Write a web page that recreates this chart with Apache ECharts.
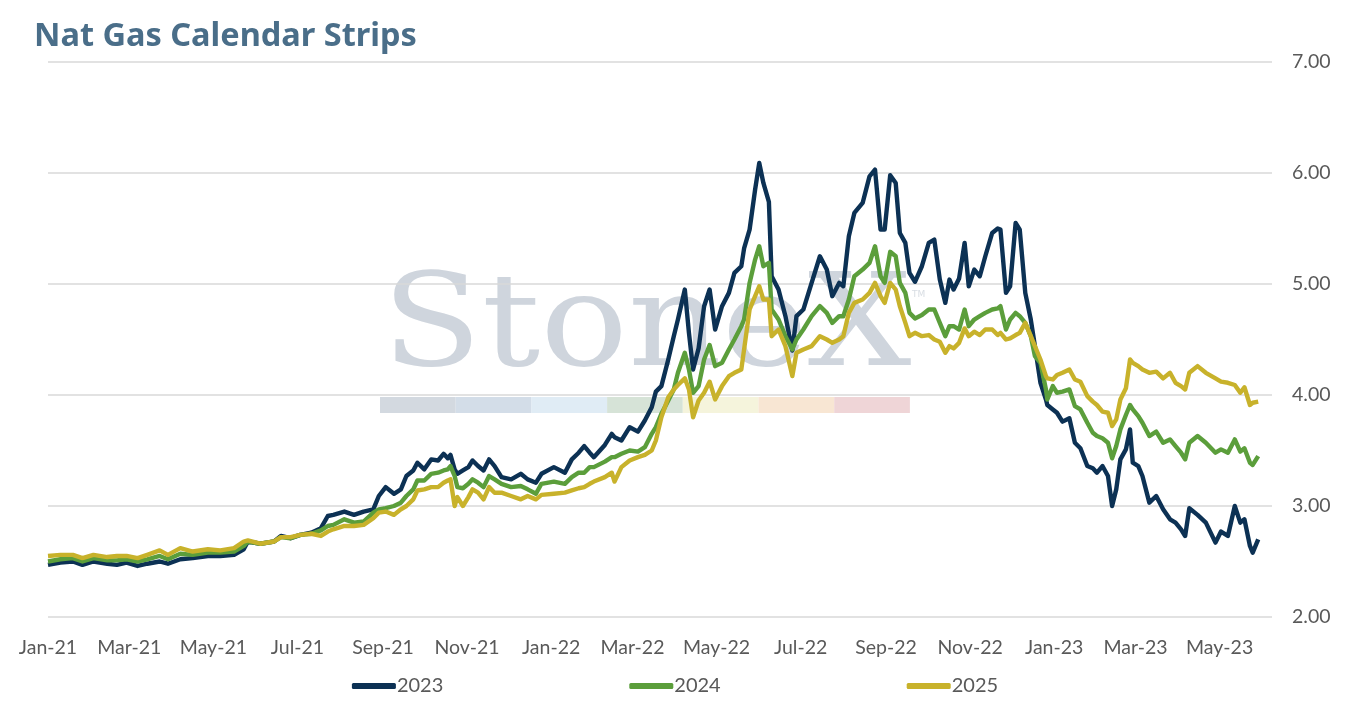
<!DOCTYPE html>
<html>
<head>
<meta charset="utf-8">
<script src="https://cdn.jsdelivr.net/npm/echarts@6/dist/echarts.min.js"></script>
<style>
html,body{margin:0;padding:0;background:#fff;}
#chart{width:1350px;height:707px;}
</style>
</head>
<body>
<div id="chart"></div>
<script>
const dates = [
'2021-01-01','2021-01-10','2021-01-19','2021-01-26','2021-02-03','2021-02-13','2021-02-20','2021-02-27','2021-03-07','2021-03-14',
'2021-03-23','2021-03-29','2021-04-07','2021-04-16','2021-04-27','2021-05-06','2021-05-16','2021-05-23','2021-05-26','2021-06-04',
'2021-06-14','2021-06-19','2021-06-26','2021-07-03','2021-07-11','2021-07-18','2021-07-23','2021-07-27','2021-08-04','2021-08-11',
'2021-08-18','2021-08-25','2021-08-29','2021-09-03','2021-09-09','2021-09-14','2021-09-18','2021-09-23','2021-09-26','2021-10-01',
'2021-10-06','2021-10-11','2021-10-15','2021-10-18','2021-10-20','2021-10-23','2021-10-25','2021-10-29','2021-11-02','2021-11-05',
'2021-11-09','2021-11-13','2021-11-17','2021-11-21','2021-11-26','2021-12-03','2021-12-10','2021-12-15','2021-12-21','2021-12-25',
'2022-01-03','2022-01-11','2022-01-16','2022-01-21','2022-01-25','2022-01-29','2022-02-01','2022-02-09','2022-02-14','2022-02-16',
'2022-02-21','2022-02-27','2022-03-05','2022-03-10','2022-03-15','2022-03-18','2022-03-22','2022-03-27','2022-03-31','2022-04-03',
'2022-04-08','2022-04-11','2022-04-14','2022-04-18','2022-04-22','2022-04-26','2022-04-30','2022-05-05','2022-05-10','2022-05-14',
'2022-05-19','2022-05-21','2022-05-25','2022-05-29','2022-06-01','2022-06-04','2022-06-08','2022-06-10','2022-06-15','2022-06-20',
'2022-06-25','2022-06-28','2022-07-03','2022-07-09','2022-07-15','2022-07-20','2022-07-24','2022-07-29','2022-08-01','2022-08-05',
'2022-08-09','2022-08-15','2022-08-20','2022-08-24','2022-08-28','2022-08-31','2022-09-04','2022-09-08','2022-09-11','2022-09-15',
'2022-09-18','2022-09-22','2022-09-27','2022-10-02','2022-10-06','2022-10-10','2022-10-14','2022-10-17','2022-10-20','2022-10-24',
'2022-10-28','2022-10-31','2022-11-04','2022-11-08','2022-11-12','2022-11-17','2022-11-21','2022-11-23','2022-11-27','2022-11-30',
'2022-12-04','2022-12-07','2022-12-11','2022-12-15','2022-12-18','2022-12-22','2022-12-26','2022-12-27','2022-12-31','2023-01-03',
'2023-01-07','2023-01-12','2023-01-16','2023-01-20','2023-01-25','2023-01-29','2023-02-01','2023-02-05','2023-02-09','2023-02-12',
'2023-02-15','2023-02-18','2023-02-22','2023-02-25','2023-02-27','2023-03-03','2023-03-06','2023-03-11','2023-03-16','2023-03-21',
'2023-03-26','2023-03-30','2023-04-03','2023-04-06','2023-04-09','2023-04-15','2023-04-21','2023-04-28','2023-05-02','2023-05-07',
'2023-05-12','2023-05-16','2023-05-19','2023-05-23','2023-05-25','2023-05-29'
];
const s2023 = [
2.47,2.49,2.50,2.47,2.50,2.48,2.47,2.49,2.46,2.48,
2.50,2.48,2.52,2.53,2.55,2.55,2.56,2.61,2.68,2.66,
2.68,2.73,2.71,2.74,2.76,2.80,2.91,2.92,2.95,2.92,
2.95,2.97,3.09,3.17,3.11,3.15,3.27,3.32,3.39,3.33,
3.42,3.41,3.47,3.43,3.46,3.33,3.29,3.32,3.35,3.41,
3.36,3.32,3.42,3.36,3.26,3.24,3.29,3.24,3.21,3.29,
3.35,3.30,3.42,3.48,3.54,3.48,3.44,3.55,3.65,3.62,
3.59,3.71,3.67,3.77,3.89,4.03,4.08,4.32,4.53,4.68,
4.95,4.56,4.23,4.42,4.80,4.95,4.59,4.80,4.92,5.10,
5.16,5.32,5.49,5.85,6.09,5.91,5.74,5.07,4.95,4.71,
4.40,4.71,4.77,5.01,5.25,5.13,4.89,5.01,4.98,5.43,
5.64,5.73,5.97,6.03,5.49,5.49,5.98,5.91,5.46,5.37,
5.10,5.02,5.16,5.37,5.40,5.04,4.83,5.04,4.95,5.05,
5.37,4.98,5.13,5.07,5.25,5.46,5.50,5.49,4.92,4.98,
5.55,5.49,4.92,4.68,4.44,4.11,3.96,3.91,3.87,3.84,
3.76,3.79,3.57,3.52,3.36,3.34,3.30,3.36,3.27,3.00,
3.15,3.42,3.51,3.69,3.39,3.36,3.27,3.03,3.09,2.97,
2.88,2.85,2.79,2.73,2.98,2.92,2.85,2.67,2.77,2.73,
3.00,2.85,2.88,2.64,2.58,2.70
];
const s2024 = [
2.50,2.52,2.53,2.50,2.53,2.51,2.51,2.52,2.50,2.52,
2.55,2.52,2.57,2.56,2.58,2.58,2.59,2.64,2.68,2.66,
2.68,2.72,2.71,2.74,2.75,2.78,2.82,2.83,2.88,2.85,
2.86,2.94,2.97,2.98,3.00,3.03,3.09,3.15,3.23,3.23,
3.29,3.30,3.32,3.33,3.36,3.27,3.17,3.16,3.20,3.24,
3.21,3.17,3.27,3.24,3.20,3.17,3.18,3.15,3.11,3.20,
3.22,3.20,3.26,3.30,3.30,3.35,3.35,3.40,3.44,3.44,
3.47,3.50,3.49,3.53,3.65,3.71,3.83,3.95,4.05,4.20,
4.38,4.23,4.02,4.08,4.32,4.45,4.26,4.29,4.41,4.50,
4.62,4.68,5.01,5.22,5.34,5.16,5.19,4.77,4.68,4.53,
4.41,4.50,4.59,4.71,4.80,4.74,4.65,4.71,4.71,4.86,
5.07,5.13,5.19,5.34,5.07,5.01,5.29,5.25,5.01,4.92,
4.74,4.69,4.72,4.77,4.77,4.65,4.53,4.62,4.62,4.59,
4.77,4.62,4.68,4.71,4.74,4.77,4.78,4.80,4.59,4.68,
4.74,4.71,4.65,4.53,4.35,4.29,4.05,3.96,4.08,4.02,
4.03,4.05,3.90,3.87,3.75,3.66,3.63,3.61,3.57,3.43,
3.54,3.69,3.82,3.91,3.87,3.81,3.75,3.63,3.67,3.57,
3.60,3.54,3.48,3.42,3.57,3.63,3.57,3.48,3.51,3.48,
3.60,3.49,3.52,3.39,3.37,3.45
];
const s2025 = [
2.55,2.56,2.56,2.53,2.56,2.54,2.55,2.55,2.53,2.56,
2.60,2.56,2.62,2.59,2.61,2.60,2.62,2.68,2.69,2.66,
2.68,2.72,2.72,2.74,2.75,2.73,2.77,2.79,2.82,2.82,
2.83,2.89,2.94,2.95,2.92,2.97,3.00,3.06,3.14,3.15,
3.17,3.17,3.21,3.23,3.24,3.00,3.08,3.00,3.08,3.15,
3.12,3.06,3.17,3.12,3.12,3.09,3.06,3.09,3.06,3.10,
3.11,3.12,3.14,3.16,3.17,3.20,3.22,3.26,3.30,3.22,
3.35,3.41,3.44,3.46,3.50,3.59,3.80,3.98,4.05,4.09,
4.15,4.05,3.80,3.95,4.02,4.12,3.96,4.08,4.17,4.20,
4.23,4.41,4.77,4.89,4.98,4.86,4.86,4.53,4.59,4.44,
4.17,4.38,4.41,4.44,4.53,4.50,4.47,4.50,4.53,4.74,
4.83,4.86,4.92,5.01,4.89,4.83,5.01,4.95,4.80,4.65,
4.53,4.56,4.53,4.54,4.50,4.48,4.38,4.44,4.42,4.47,
4.60,4.53,4.57,4.54,4.59,4.59,4.54,4.56,4.50,4.51,
4.54,4.56,4.65,4.53,4.44,4.32,4.17,4.15,4.14,4.18,
4.20,4.23,4.14,4.12,3.99,3.94,3.91,3.85,3.84,3.72,
3.78,3.96,4.06,4.32,4.29,4.26,4.23,4.20,4.21,4.15,
4.20,4.11,4.08,4.05,4.20,4.26,4.20,4.15,4.12,4.11,
4.09,4.02,4.07,3.91,3.93,3.94
];
const seriesNames = ['2023','2024','2025'];
const tickDates = ['2021-01-01','2021-03-01','2021-05-01','2021-07-01','2021-09-01','2021-11-01','2022-01-01','2022-03-01','2022-05-01','2022-07-01','2022-09-01','2022-11-01','2023-01-01','2023-03-01','2023-05-01'];
const tickLabels = ['Jan-21','Mar-21','May-21','Jul-21','Sep-21','Nov-21','Jan-22','Mar-22','May-22','Jul-22','Sep-22','Nov-22','Jan-23','Mar-23','May-23'];
const axisStart = '2021-01-01';
const axisEnd = '2023-06-08';
const yTicks = [2, 3, 4, 5, 6, 7];

// build calendar-day categories
const days = [];
(function(){
  let t = Date.parse(axisStart + 'T00:00:00Z');
  const end = Date.parse(axisEnd + 'T00:00:00Z');
  while (t <= end) {
    days.push(new Date(t).toISOString().slice(0,10));
    t += 86400000;
  }
})();
const dayIndex = {};
days.forEach((d,i)=>{ dayIndex[d]=i; });
const tickMap = {};
tickDates.forEach((d,i)=>{ tickMap[d]=tickLabels[i]; });

function toData(vals){ return dates.map((d,i)=>[dayIndex[d], vals[i]]); }

const colors = ['#0c3154','#5b9e3b','#c8b22b'];
const allVals = [s2023, s2024, s2025];
const FONT = 'Lato, "Noto Sans", sans-serif';

const chart = echarts.init(document.getElementById('chart'));
const barColors = ['#d3d9e0','#d3dde8','#e0ecf5','#d6e3d7','#f5f4dc','#f8e6d3','#efd5d7'];
const graphics = [
  {type:'text', left:34, top:20, z:10, style:{text:'Nat Gas Calendar Strips', fill:'#4a6e89', font:'bold 32.5px "Noto Sans", Lato, sans-serif'}},
  {type:'text', x:382, y:396, z:-1, scaleX:1.12, silent:true, style:{text:'StoneX', fill:'#cfd5dd', font:'130px "DejaVu Serif", "Liberation Serif", serif', textVerticalAlign:'bottom'}},
  {type:'text', x:912, y:290, z:-1, silent:true, style:{text:'TM', fill:'#d8dde3', font:'9px "DejaVu Sans", sans-serif'}}
];
barColors.forEach((c,i)=>{
  graphics.push({type:'rect', z:-1, silent:true, shape:{x:380+i*75.7, y:397, width:75.7, height:16}, style:{fill:c}});
});

chart.setOption({
  animation:false,
  color: colors,
  graphic: graphics,
  grid:{left:48, right:78, top:62, bottom:90, containLabel:false},
  legend:{
    bottom:6, left:'center',
    itemWidth:44, itemHeight:6, itemGap:186,
    icon:'roundRect',
    textStyle:{fontSize:20, color:'#595959', fontFamily:FONT, padding:[0,0,0,-4]},
    data: seriesNames
  },
  xAxis:{
    type:'category', boundaryGap:false, data: days,
    axisLine:{show:false}, axisTick:{show:false},
    axisLabel:{
      interval:function(idx, val){ return tickMap[val] !== undefined; },
      formatter:function(val){ return tickMap[val] || ''; },
      fontSize:19.5, color:'#595959', margin:21,
      fontFamily:FONT
    },
    splitLine:{show:false}
  },
  yAxis:{
    type:'value', position:'right', min:yTicks[0], max:yTicks[yTicks.length-1], interval:1,
    axisLine:{show:false}, axisTick:{show:false},
    axisLabel:{formatter:v=>v.toFixed(2), fontSize:19.5, color:'#595959', margin:20, fontFamily:FONT},
    splitLine:{lineStyle:{color:'#d9d9d9', width:1.5}}
  },
  series: seriesNames.map((n,i)=>({
    name:n, type:'line', data: toData(allVals[i]), showSymbol:false, symbol:'none',
    lineStyle:{width:4.4, color:colors[i], join:'round'}, itemStyle:{color:colors[i]}, z:2+i
  }))
});
</script>
</body>
</html>
